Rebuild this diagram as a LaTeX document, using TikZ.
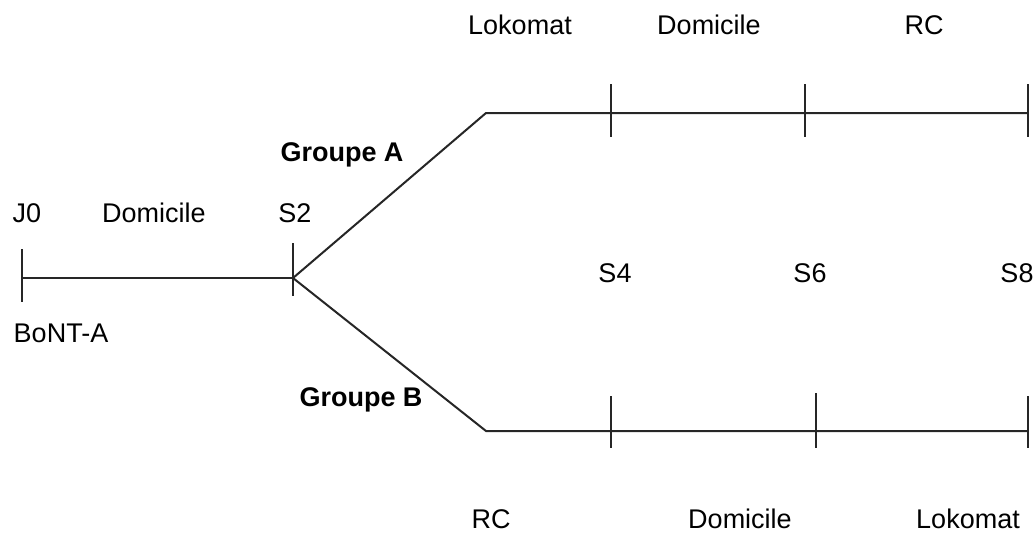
\documentclass[tikz,border=0pt]{standalone}
\usepackage{fontspec}
\setmainfont{Liberation Sans}
\usetikzlibrary{positioning}

\tikzset{
  timeline/.style={line width=2pt, draw=black!85},
  tickline/.style={line width=2pt, draw=black!85},
  lbl/.style={font=\fontsize{27}{31}\selectfont, anchor=base, inner sep=0pt},
  grp/.style={lbl, font=\fontsize{27}{31}\selectfont\bfseries}
}

\begin{document}
\begin{tikzpicture}[x=1pt, y=-1pt]
  \useasboundingbox (0,0) rectangle (1034,533);

  % points of the time line
  \coordinate (j0) at (22,278);
  \coordinate (s2) at (293,278);
  \coordinate (abend) at (486,113);
  \coordinate (a4) at (611,113);
  \coordinate (a6) at (805,113);
  \coordinate (a8) at (1028,113);
  \coordinate (bbend) at (486,431);
  \coordinate (b4) at (611,431);
  \coordinate (b6) at (816,431);
  \coordinate (b8) at (1028,431);

  \draw[timeline] (j0) -- (s2);
  \draw[timeline] (s2) -- (abend) -- (a8);
  \draw[timeline] (s2) -- (bbend) -- (b8);

  % ticks: name/above/below
  \foreach \p/\u/\d in {j0/29/24, s2/35/18, a4/29/24, a6/29/24, a8/29/24,
                        b4/35/17, b6/38/17, b8/35/17}
    \draw[tickline] ([yshift=\u pt]\p) -- ([yshift=-\d pt]\p);

  % labels
  \node[lbl] (lj0) at (27,222) {J0};
  \node[lbl] (ldom) at (154,222) {Domicile};
  \node[lbl] (ls2) at (295,222) {S2};
  \node[lbl] (lbont) at (61,342) {BoNT-A};
  \node[grp] (lga) at (342,161) {Groupe A};
  \node[grp] (lgb) at (361,406) {Groupe B};

  \node[lbl] (alok) at (520,34) {Lokomat};
  \node[lbl] (adom) at (709,34) {Domicile};
  \node[lbl] (arc) at (924,34) {RC};

  \node[lbl] (ls4) at (615,282) {S4};
  \node[lbl] (ls6) at (810,282) {S6};
  \node[lbl] (ls8) at (1017,282) {S8};

  \node[lbl] (brc) at (491,528) {RC};
  \node[lbl] (bdom) at (740,528) {Domicile};
  \node[lbl] (blok) at (968,528) {Lokomat};
\end{tikzpicture}
\end{document}
